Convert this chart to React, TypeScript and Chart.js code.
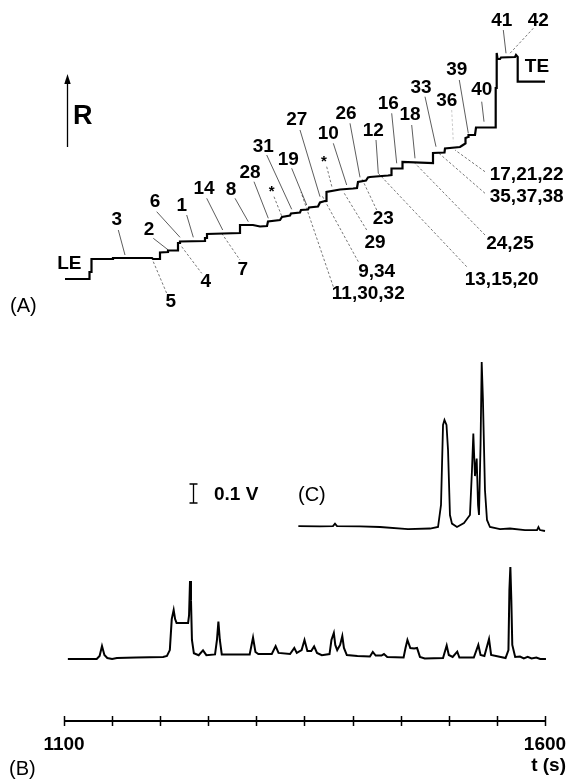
import React, { useEffect, useRef } from "react";
import { Chart, registerables } from "chart.js";
Chart.register(...registerables);

// ---------- Panel A: resistance staircase (position along sample, R arbitrary units) ----------
const stepPos = [0, 24.5, 24.5, 26.5, 26.5, 48, 48, 87, 88, 95, 95, 103, 103, 113, 113, 115, 115, 140, 140, 142, 142, 175, 175, 188, 195, 202, 203, 215, 217, 225, 226, 235, 236, 243, 244, 253, 255, 260, 261.5, 261.5, 275, 288, 292, 293, 301, 303, 305, 323, 326.5, 326.5, 337.5, 337.5, 368, 368, 379.5, 380, 395, 398, 400.5, 400.5, 403, 403.5, 410, 411, 430, 430.7, 431.7, 431.7, 432.5, 435, 436, 450, 451, 452.7, 452.7, 480];
const stepR = [0, 0, 7, 7, 20, 20, 21, 21, 20, 20, 26.5, 27, 28.5, 28.5, 36, 36, 37.5, 38, 41, 41, 45, 46, 54, 54, 52.5, 53, 57.5, 59, 62, 63.5, 65.5, 66.5, 69, 69.5, 71.5, 72.5, 76.5, 78, 78, 87, 89.5, 90.5, 91, 97, 98.5, 101.5, 102, 103.5, 104, 110.5, 110.5, 117, 116, 126, 126.5, 130.5, 132, 134, 135.5, 141, 142, 144, 144, 151.5, 151.5, 191, 191, 226, 220, 220, 221.5, 222, 224, 222, 197.3, 197.3];

const labelText = ["LE", "3", "2", "6", "1", "14", "8", "28", "*", "31", "19", "27", "10", "*", "26", "12", "16", "18", "33", "36", "39", "40", "41", "42", "TE", "5", "4", "7", "17,21,22", "35,37,38", "24,25", "13,15,20", "23", "29", "9,34", "11,30,32"];
const labelPos = [4.3, 51.7, 84, 90, 116.7, 139, 166, 185, 206.7, 198.3, 223.3, 231.7, 263.3, 259, 281, 308.3, 323.3, 345, 356, 381.7, 391.7, 416.7, 436.7, 473.3, 472, 105.7, 140.7, 177.7, 461.7, 461.7, 445, 436.7, 318.3, 310, 311.7, 303.3];
const labelR = [15, 59, 49.7, 77.3, 73, 90.7, 89, 106.3, 89.7, 132.3, 119, 159, 145.7, 119.7, 165.7, 148, 175.7, 164, 191.7, 178.3, 209, 189, 258.3, 258.3, 212.3, -22.7, -2.7, 9.7, 104, 82.3, 35.7, -0.3, 60.7, 36.3, 7.3, -14.3];

// leader lines: start (near label) and end (on staircase); null = no leader
const leaderPos1 = [null, 53.3, 88.3, 91.7, 121.7, 141.7, 170, 189, 209, 201.7, 226.7, 235, 268.3, 261.7, 285, 311, 326.7, 346.7, 360, 386.7, 394.3, 416.7, 438.3, 468.3, null, 88.3, 116.7, 156.7, 420, 420, 420, 401.7, 311.7, 301.7, 293.3, 268.3];
const leaderR1 = [null, 49, 40.7, 67.3, 64, 80.7, 80.7, 97.3, 82.3, 124, 110.7, 149, 135.7, 112.3, 155.7, 139, 165.7, 154, 182.3, 169, 199, 177.3, 249, 250.7, null, 17.3, 32.3, 45.7, 107.3, 85.7, 44, 12.3, 69, 49, 17.3, -7.7];
const leaderPos2 = [null, 60, 103.3, 115, 128.3, 157.7, 183.3, 203.3, 216.7, 226.7, 241.7, 255, 281.7, 267.3, 295, 313.3, 331.7, 350, 371, 388.3, 403.3, 419, 441, 445, null, 101.7, 136.7, 175, 390, 373.3, 350, 313.3, 296.7, 278.3, 256.7, 236];
const leaderR2 = [null, 24, 29, 41.7, 41.7, 49, 57.3, 60.7, 63, 69.7, 74, 82.3, 94, 90.7, 101.7, 105.7, 115.7, 120.7, 132.3, 137.3, 145.7, 157.3, 225.7, 225.7, null, -14.3, 5.7, 19, 129, 126.3, 115.7, 105.7, 100.7, 87.3, 84, 87];
const leaderKind = ["", "s", "s", "s", "s", "s", "s", "s", "d", "s", "s", "s", "s", "d", "s", "s", "s", "s", "s", "f", "s", "s", "s", "d", "", "d", "d", "d", "d", "d", "d", "d", "d", "d", "d", "d"];

// ---------- Panel B: detector trace (t in s, signal in V) ----------
const timeB = [1104, 1134, 1137, 1139.5, 1142, 1145, 1150, 1155, 1175, 1203, 1207, 1210, 1212, 1214, 1215.5, 1217, 1229, 1230, 1231, 1232, 1233, 1235, 1240, 1244.5, 1248, 1257, 1259, 1260.5, 1262, 1264, 1293, 1296.5, 1299, 1302, 1316, 1320, 1323, 1335, 1339.4, 1342, 1347, 1350, 1353, 1357, 1360, 1363, 1368, 1376, 1378, 1380.5, 1382, 1384, 1387, 1389.3, 1391, 1394, 1405, 1418, 1421, 1424, 1430, 1432.6, 1436, 1453, 1455, 1457, 1460, 1464, 1467, 1470, 1475, 1494, 1497.8, 1500, 1504, 1508.8, 1511, 1526, 1530.7, 1533, 1537, 1541.8, 1544, 1559, 1562, 1563, 1564, 1565, 1566, 1569, 1574, 1578, 1582, 1586, 1591, 1595, 1601];
const voltB = [0, 0, 0.016, 0.068, 0.021, 0.005, 0, 0.005, 0.008, 0.011, 0.016, 0.047, 0.21, 0.258, 0.21, 0.19, 0.19, 0.23, 0.41, 0.31, 0.1, 0.03, 0.02, 0.045, 0.02, 0.024, 0.1, 0.197, 0.1, 0.024, 0.024, 0.113, 0.037, 0.026, 0.026, 0.068, 0.032, 0.026, 0.058, 0.032, 0.047, 0.1, 0.042, 0.042, 0.066, 0.032, 0.02, 0.026, 0.1, 0.137, 0.074, 0.047, 0.074, 0.121, 0.058, 0.021, 0.016, 0.013, 0.037, 0.018, 0.018, 0.026, 0.011, 0.008, 0.058, 0.1, 0.058, 0.055, 0.058, 0.011, 0.003, 0.005, 0.071, 0.021, 0.011, 0.039, 0.008, 0.008, 0.074, 0.021, 0.016, 0.105, 0.021, 0.005, 0.047, 0.363, 0.484, 0.31, 0.074, 0.011, 0.013, 0.003, 0.011, 0.003, 0.008, 0, 0];

// ---------- Panel C: inset trace ----------
const timeC = [1343.6, 1366.1, 1379.6, 1381.7, 1383.8, 1407.7, 1428.5, 1457.6, 1480.5, 1488.8, 1491.9, 1494, 1495.5, 1497.6, 1499.2, 1501.2, 1503.3, 1508.5, 1515.8, 1518.9, 1522, 1524.1, 1525.5, 1527.2, 1529, 1530.4, 1531.4, 1533, 1534.2, 1535.5, 1537.6, 1539.7, 1542.8, 1553.2, 1563.6, 1579.2, 1591.7, 1593.2, 1594.8, 1600];
const voltC = [0.005, 0.003, 0.005, 0.018, 0.005, 0.003, 0, -0.011, -0.008, 0, 0.116, 0.537, 0.563, 0.537, 0.405, 0.063, 0.018, 0, 0.021, 0.042, 0.063, 0.3, 0.492, 0.268, 0.36, 0.116, 0.063, 0.432, 0.868, 0.668, 0.195, 0.037, 0, -0.011, -0.008, -0.016, -0.016, 0, -0.016, -0.021];

// ---------- time axis ----------
const tickTimes = [1100, 1150, 1200, 1250, 1300, 1350, 1400, 1450, 1500, 1550, 1600];
const tickLabelTimes = [1100, 1600];
const scaleBarVolts = 0.1;

const FONT = "'Liberation Sans', Arial, Helvetica, sans-serif";

export default function App() {
  const ref = useRef<HTMLCanvasElement | null>(null);
  useEffect(() => {
    const canvas = ref.current;
    if (!canvas) return;

    const datasets: any[] = [];
    datasets.push({
      data: stepPos.map((p, i) => ({ x: p, y: stepR[i] })),
      xAxisID: "xA", yAxisID: "yA",
      borderColor: "#000", borderWidth: 2.2, pointRadius: 0, tension: 0, borderJoinStyle: "miter",
    });
    labelText.forEach((_, i) => {
      if (leaderPos1[i] === null) return;
      const kind = leaderKind[i];
      datasets.push({
        data: [
          { x: leaderPos1[i], y: leaderR1[i] },
          { x: leaderPos2[i], y: leaderR2[i] },
        ],
        xAxisID: "xA", yAxisID: "yA",
        borderColor: kind === "f" ? "#bbb" : kind === "d" ? "#555" : "#333",
        borderWidth: 0.8,
        borderDash: kind === "s" ? [] : [2.5, 2],
        pointRadius: 0,
      });
    });
    datasets.push({
      data: timeB.map((t, i) => ({ x: t, y: voltB[i] })),
      xAxisID: "x", yAxisID: "yB",
      borderColor: "#000", borderWidth: 2, pointRadius: 0, tension: 0,
    });
    datasets.push({
      data: timeC.map((t, i) => ({ x: t, y: voltC[i] })),
      xAxisID: "x", yAxisID: "yC",
      borderColor: "#000", borderWidth: 1.8, pointRadius: 0, tension: 0,
    });

    const overlay = {
      id: "overlay",
      afterDraw(chart: any) {
        const ctx = chart.ctx as CanvasRenderingContext2D;
        const xs = chart.scales.x, yB = chart.scales.yB;
        const xA = chart.scales.xA, yA = chart.scales.yA;
        ctx.save();
        ctx.fillStyle = "#000";
        ctx.strokeStyle = "#000";

        // R arrow
        ctx.lineWidth = 1.3;
        ctx.beginPath();
        ctx.moveTo(67.5, 147);
        ctx.lineTo(67.5, 82);
        ctx.stroke();
        ctx.beginPath();
        ctx.moveTo(67.5, 74);
        ctx.lineTo(64.3, 84);
        ctx.lineTo(70.7, 84);
        ctx.closePath();
        ctx.fill();
        ctx.font = `bold 27px ${FONT}`;
        ctx.textAlign = "left";
        ctx.textBaseline = "middle";
        ctx.fillText("R", 73, 117);

        // panel letters
        ctx.font = `20px ${FONT}`;
        ctx.fillText("(A)", 10, 306);
        ctx.fillText("(B)", 9, 769);
        ctx.fillText("(C)", 298, 495);

        // staircase labels
        ctx.textAlign = "center";
        labelText.forEach((txt, i) => {
          const px = xA.getPixelForValue(labelPos[i]);
          const py = yA.getPixelForValue(labelR[i]);
          ctx.font = txt === "*" ? `bold 15px ${FONT}` : `bold 19px ${FONT}`;
          ctx.fillText(txt, px, py + (txt === "*" ? 3 : 0));
        });

        // scale bar (0.1 V)
        const barLen = yB.getPixelForValue(0) - yB.getPixelForValue(scaleBarVolts);
        const barX = 193.5, barBottom = 503;
        ctx.lineWidth = 1.3;
        ctx.beginPath();
        ctx.moveTo(barX, barBottom);
        ctx.lineTo(barX, barBottom - barLen);
        ctx.moveTo(barX - 4, barBottom);
        ctx.lineTo(barX + 4, barBottom);
        ctx.moveTo(barX - 4, barBottom - barLen);
        ctx.lineTo(barX + 4, barBottom - barLen);
        ctx.stroke();
        ctx.font = `bold 19px ${FONT}`;
        ctx.textAlign = "left";
        ctx.fillText("0.1 V", 214, barBottom - barLen / 2 + 1);

        // time axis
        const axisY = 721;
        ctx.lineWidth = 2;
        ctx.beginPath();
        ctx.moveTo(xs.getPixelForValue(tickTimes[0]), axisY);
        ctx.lineTo(xs.getPixelForValue(tickTimes[tickTimes.length - 1]), axisY);
        ctx.stroke();
        ctx.lineWidth = 1.5;
        tickTimes.forEach((t) => {
          const px = Math.round(xs.getPixelForValue(t)) + 0.5;
          ctx.beginPath();
          ctx.moveTo(px, axisY - 5);
          ctx.lineTo(px, axisY + 5);
          ctx.stroke();
        });
        ctx.font = `bold 19px ${FONT}`;
        ctx.textAlign = "center";
        tickLabelTimes.forEach((t) => {
          ctx.fillText(String(t), xs.getPixelForValue(t), axisY + 24);
        });
        ctx.textAlign = "right";
        ctx.fillText("t (s)", 566, 766);
        ctx.restore();
      },
    };

    const chart = new Chart(canvas, {
      type: "line",
      data: { datasets },
      options: {
        responsive: false,
        animation: false,
        devicePixelRatio: 1,
        layout: { padding: 0 },
        parsing: false as any,
        normalized: true,
        plugins: { legend: { display: false }, tooltip: { enabled: false } },
        events: [],
        scales: {
          x: { type: "linear", display: false, min: 1033.47, max: 1625.99 },
          yB: { type: "linear", display: false, min: -0.6316, max: 3.4684 },
          yC: { type: "linear", display: false, min: -1.3263, max: 2.7737 },
          xA: { type: "linear", display: false, min: -65, max: 505 },
          yA: { type: "linear", display: false, min: -500, max: 279 },
        },
      } as any,
      plugins: [overlay],
    });
    return () => chart.destroy();
  }, []);

  return (
    <div style={{ position: "absolute", left: 0, top: 0, width: 570, height: 779, background: "#fff" }}>
      <canvas ref={ref} width={570} height={779} style={{ display: "block", width: 570, height: 779 }} />
    </div>
  );
}
